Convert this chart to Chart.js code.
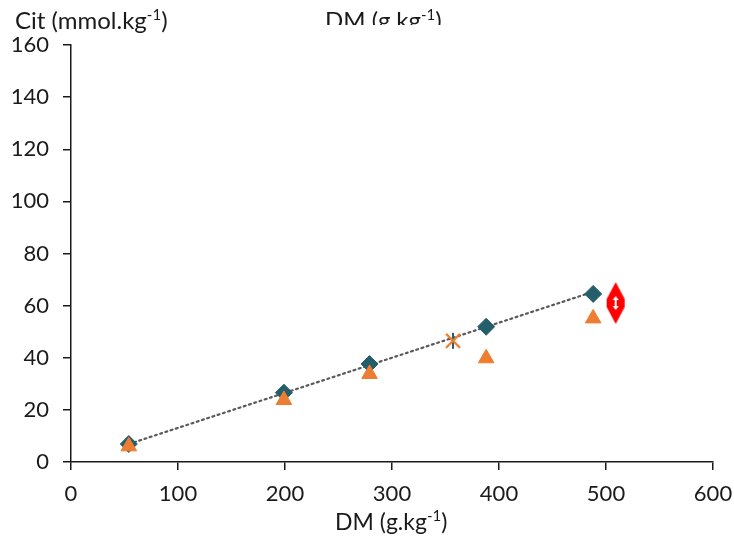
<!DOCTYPE html>
<html>
<head>
<meta charset="utf-8">
<script src="https://cdn.jsdelivr.net/npm/chart.js@4"></script>
<style>
body { margin: 0; background: #fff; }
#wrap { position: relative; width: 734px; height: 537px; font-family: Lato, "Open Sans", sans-serif; color: #1a1a1a; }
#wrap canvas { position: absolute; left: 0; top: 0; }
.lbl { position: absolute; font-size: 24px; white-space: nowrap; line-height: 1; }
.lbl sup { font-size: 15px; vertical-align: 9px; line-height: 0; }
#clip { position: absolute; left: 325px; top: 0; width: 150px; height: 25px; overflow: hidden; }
</style>
</head>
<body>
<div id="wrap">
  <canvas id="myChart" width="734" height="537"></canvas>
  <div class="lbl" style="left:15px;top:8px;">Cit (mmol.kg<sup>-1</sup>)</div>
  <div id="clip"><div class="lbl" style="left:0;top:8px;">DM (g.kg<sup>-1</sup>)</div></div>
  <div class="lbl" style="left:335px;top:510px;font-size:23px;">DM (g.kg<sup>-1</sup>)</div>
</div>
<script>
// данные
const dmDiamond = [54, 199, 279, 388, 488];
const citDiamond = [6.9, 26.6, 37.6, 51.9, 64.5];
const dmTriangle = [54, 199, 279, 388, 488];
const citTriangle = [6.0, 23.8, 33.8, 39.8, 55.1];
const dmStar = [357];
const citStar = [46.5];
const dmRed = [509];
const citRed = [61];
const dmTrend = [54, 488];
const citTrend = [6.9, 65.3];
const xTicks = [0, 100, 200, 300, 400, 500, 600];
const yTicks = [0, 20, 40, 60, 80, 100, 120, 140, 160];

const teal = '#255e6b';
const orange = '#ed7d31';

function pts(xs, ys) {
    return xs.map((x, i) => ({ x: x, y: ys[i] }));
}

// звёздочка: оранжевый крест + тёмная вертикаль
const star = document.createElement('canvas');
star.width = 20; star.height = 20;
(function () {
    const c = star.getContext('2d');
    c.strokeStyle = teal;
    c.lineWidth = 2;
    c.beginPath();
    c.moveTo(10, 2); c.lineTo(10, 18);
    c.stroke();
    c.lineWidth = 2.4;
    c.strokeStyle = orange;
    c.beginPath();
    c.moveTo(3, 3); c.lineTo(17, 17);
    c.moveTo(17, 3); c.lineTo(3, 17);
    c.stroke();
})();

// красный маркер со стрелкой
const redMark = document.createElement('canvas');
redMark.width = 22; redMark.height = 44;
(function () {
    const c = redMark.getContext('2d');
    c.fillStyle = '#ff0000';
    c.beginPath();
    c.moveTo(11, 1); c.lineTo(20, 18); c.lineTo(20, 26); c.lineTo(11, 43); c.lineTo(2, 26); c.lineTo(2, 18);
    c.closePath();
    c.fill();
    // белая двойная стрелка внутри
    c.fillStyle = '#fff';
    c.fillRect(10, 17, 2, 10);
    c.beginPath();
    c.moveTo(11, 15); c.lineTo(8, 19); c.lineTo(14, 19); c.closePath();
    c.fill();
    c.beginPath();
    c.moveTo(11, 29); c.lineTo(8, 25); c.lineTo(14, 25); c.closePath();
    c.fill();
})();

const ctx = document.getElementById('myChart').getContext('2d');
const myChart = new Chart(ctx, {
    type: 'scatter',
    data: {
        datasets: [
            {
                label: 'trend',
                data: pts(dmTrend, citTrend),
                showLine: true,
                borderColor: '#595959',
                borderWidth: 2.2,
                borderDash: [2, 3.5],
                borderCapStyle: 'round',
                pointRadius: 0,
                order: 4
            },
            {
                label: 'diamond',
                data: pts(dmDiamond, citDiamond),
                pointStyle: 'rectRot',
                pointRadius: 8.5,
                backgroundColor: teal,
                borderColor: teal,
                borderWidth: 1,
                order: 3
            },
            {
                label: 'triangle',
                data: pts(dmTriangle, citTriangle),
                pointStyle: 'triangle',
                pointRadius: 9,
                backgroundColor: orange,
                borderColor: orange,
                borderWidth: 1,
                order: 2
            },
            {
                label: 'star',
                data: pts(dmStar, citStar),
                pointStyle: star,
                order: 1
            },
            {
                label: 'red',
                data: pts(dmRed, citRed),
                pointStyle: redMark,
                order: 0
            }
        ]
    },
    options: {
        responsive: false,
        animation: false,
        devicePixelRatio: 1,
        layout: { padding: { top: 45, right: 0, left: 0, bottom: 0 } },
        plugins: {
            legend: { display: false },
            tooltip: { enabled: false }
        },
        scales: {
            x: {
                type: 'linear',
                min: 0,
                max: 600,
                afterBuildTicks: (s) => { s.ticks = xTicks.map(v => ({ value: v })); },
                afterFit: (s) => { s.height = 75; s.paddingRight = 21; },
                ticks: { color: '#1a1a1a', font: { family: 'Lato', size: 22 }, padding: 11, maxRotation: 0 },
                grid: { drawOnChartArea: false, drawTicks: true, tickLength: 8, color: '#1a1a1a', lineWidth: 1.5 },
                border: { display: true, color: '#1a1a1a', width: 1.5 }
            },
            y: {
                type: 'linear',
                min: 0,
                max: 160,
                afterBuildTicks: (s) => { s.ticks = yTicks.map(v => ({ value: v })); },
                afterFit: (s) => { s.width = 71; },
                ticks: { color: '#1a1a1a', font: { family: 'Lato', size: 22 }, padding: 14 },
                grid: { drawOnChartArea: false, drawTicks: true, tickLength: 8, color: '#1a1a1a', lineWidth: 1.5 },
                border: { display: true, color: '#1a1a1a', width: 1.5 }
            }
        }
    }
});
</script>
</body>
</html>
